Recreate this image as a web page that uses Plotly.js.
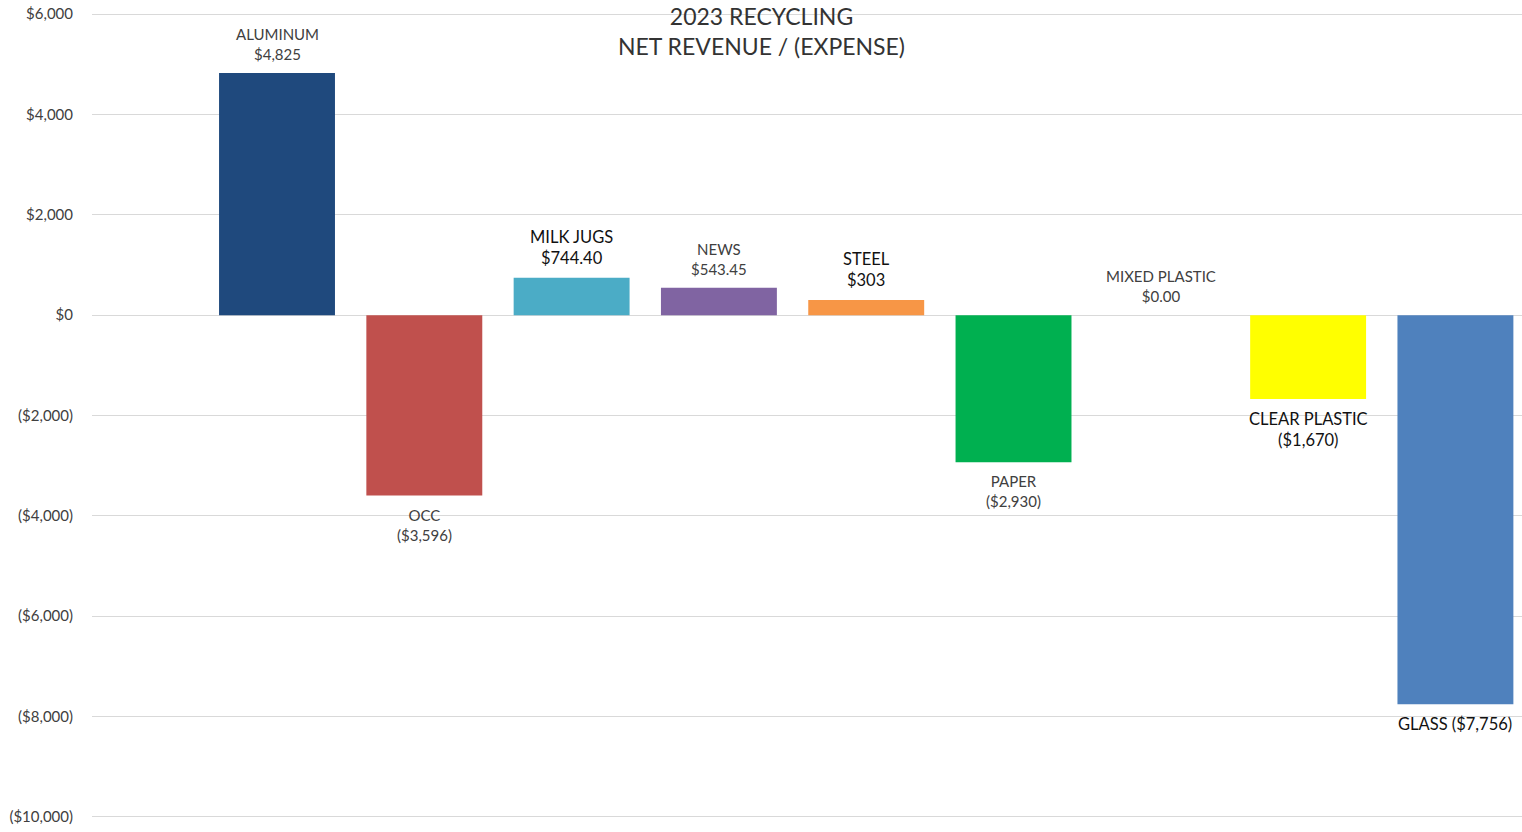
<!DOCTYPE html>
<html>
<head>
<meta charset="utf-8">
<script src="https://cdn.plot.ly/plotly-3.0.1.min.js"></script>
<style>
  html, body { margin: 0; padding: 0; background: #fff; }
  #chart { width: 1522px; height: 832px; }
</style>
</head>
<body>
<div id="chart"></div>
<script>
// data
const materials = ["ALUMINUM", "OCC", "MILK JUGS", "NEWS", "STEEL", "PAPER", "MIXED PLASTIC", "CLEAR PLASTIC", "GLASS"];
const netRevenue = [4825, -3596, 744.40, 543.45, 303, -2930, 0, -1670, -7756];
const valueLabels = ["$4,825", "($3,596)", "$744.40", "$543.45", "$303", "($2,930)", "$0.00", "($1,670)", "($7,756)"];
const barColors = ["#1F497D", "#C0504D", "#4BACC6", "#8064A2", "#F79646", "#00B050", "#9BBB59", "#FFFF00", "#4F81BD"];

const yTicks = [6000, 4000, 2000, 0, -2000, -4000, -6000, -8000, -10000];
const yTickText = ["$6,000", "$4,000", "$2,000", "$0", "($2,000)", "($4,000)", "($6,000)", "($8,000)", "($10,000)"];

const FONT = "Lato, 'Open Sans', sans-serif";

// which labels are the bigger black ones, and which sit on one line
const bigLabel = ["MILK JUGS", "STEEL", "CLEAR PLASTIC", "GLASS"];
const oneLine = ["GLASS"];

let trace = {
  type: "bar",
  x: materials,
  y: netRevenue,
  marker: { color: barColors, line: { width: 0 } },
  hoverinfo: "x+y"
};

let annotations = materials.map((m, i) => {
  let big = bigLabel.includes(m);
  let txt = oneLine.includes(m) ? m + " " + valueLabels[i] : m + "<br>" + valueLabels[i];
  let up = netRevenue[i] >= 0;
  return {
    x: m, y: netRevenue[i], xref: "x", yref: "y",
    text: txt, showarrow: false,
    yanchor: up ? "bottom" : "top",
    yshift: up ? 8 : -8,
    font: { family: FONT, size: big ? 16.5 : 15, color: big ? "#111111" : "#404040" }
  };
});

// chart title sits inside the plot, over the top gridline
annotations.push({
  xref: "paper", yref: "paper", x: 0.468, y: 1.0, yanchor: "top", yshift: 9,
  text: "2023 RECYCLING<br>NET REVENUE / (EXPENSE)",
  showarrow: false,
  font: { family: FONT, size: 23, color: "#333333" }
});

var layout = {
  width: 1522, height: 832,
  margin: { l: 92, r: 0, t: 9, b: 10 },
  paper_bgcolor: "#ffffff",
  plot_bgcolor: "#ffffff",
  showlegend: false,
  bargap: 0.213,
  font: { family: FONT, size: 15, color: "#404040" },
  xaxis: {
    range: [-1.256, 8.452],
    showticklabels: false, showgrid: false, zeroline: false, showline: false, ticks: ""
  },
  yaxis: {
    range: [-10100, 6100],
    tickvals: yTicks, ticktext: yTickText,
    showgrid: true, gridcolor: "#d9d9d9", gridwidth: 1,
    zeroline: true, zerolinecolor: "#d9d9d9", zerolinewidth: 1,
    showline: false, ticks: "", ticklabelstandoff: 18,
    tickfont: { family: FONT, size: 15, color: "#404040" }
  },
  annotations: annotations
};

Plotly.newPlot("chart", [trace], layout, { displayModeBar: false, staticPlot: true });
</script>
</body>
</html>
